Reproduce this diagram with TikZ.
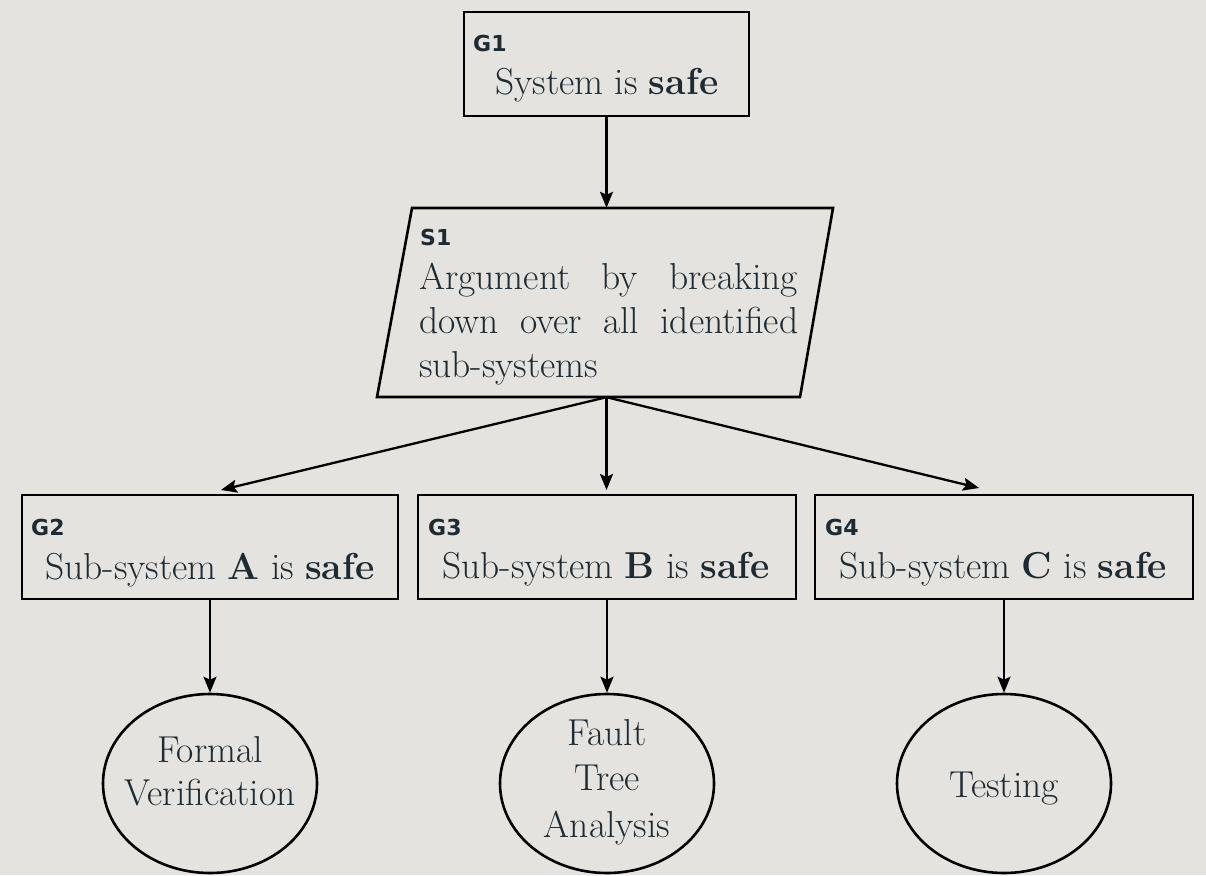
\documentclass[tikz,border=0pt]{standalone}
\usepackage{fontspec}
\newfontfamily\labfont{DejaVu Sans}
\usetikzlibrary{shapes.geometric,arrows.meta,calc}
\definecolor{bg}{RGB}{229,227,223}
\definecolor{ink}{RGB}{31,43,51}
\begin{document}
\begin{tikzpicture}[x=1pt,y=-1pt,
  frame/.style={draw=black,line width=2.6pt,inner sep=0pt,rectangle},
  oval/.style={draw=black,line width=2.6pt,inner sep=0pt,ellipse,minimum width=214pt,minimum height=179pt},
  maintext/.style={inner sep=0pt,text=ink,font=\fontsize{37.5}{44}\selectfont},
  lab/.style={inner sep=0pt,text=ink,font=\labfont\bfseries\fontsize{22}{26}\selectfont},
  arr/.style={line width=2.3pt,-{Stealth[length=16pt,width=13pt,inset=3pt]}}]
\fill[bg] (0,0) rectangle (1206,875);
% G1
\node[frame,minimum width=285pt,minimum height=104pt] (g1) at (606.5,64) {};
\node[lab,anchor=base west] (l1) at (473,52) {G1};
\node[maintext,anchor=base west] (t1) at (495,94) {System is \textbf{safe}};
% S1
\node[inner sep=0pt,minimum width=380pt,minimum height=189pt] (s1) at (606.5,302.5) {};
\draw[line width=2.6pt] (412,208) -- (833,208) -- (800,397) -- (377,397) -- cycle;
\node[lab,anchor=base west] (ls1) at (420,245) {S1};
\node[maintext,anchor=base west] (ts1a) at (419,289) {\makebox[379pt][s]{Argument by breaking}};
\node[maintext,anchor=base west] (ts1b) at (419,333) {\makebox[379pt][s]{down over all identified}};
\node[maintext,anchor=base west] (ts1c) at (419,377) {sub-systems};
% G2-G4
\node[frame,minimum width=376pt,minimum height=104pt] (g2) at (210,547) {};
\node[lab,anchor=base west] (l2) at (31,535) {G2};
\node[maintext,anchor=base west] (t2) at (45,579) {Sub-system \textbf{A} is \textbf{safe}};
\node[frame,minimum width=378pt,minimum height=104pt] (g3) at (607,547) {};
\node[lab,anchor=base west] (l3) at (428,535) {G3};
\node[maintext,anchor=base west] (t3) at (442,578) {Sub-system \textbf{B} is \textbf{safe}};
\node[frame,minimum width=378pt,minimum height=104pt] (g4) at (1004,547) {};
\node[lab,anchor=base west] (l4) at (825,535) {G4};
\node[maintext,anchor=base west] (t4) at (839,578) {Sub-system \textbf{C} is \textbf{safe}};
% ellipses
\node[oval] (fv) at (210,783.5) {};
\node[maintext,anchor=base] (fv1) at (210,762) {Formal};
\node[maintext,anchor=base] (fv2) at (210,805) {Verification};
\node[oval] (fta) at (607,783.5) {};
\node[maintext,anchor=base] (fta1) at (607,745) {Fault};
\node[maintext,anchor=base] (fta2) at (607,790) {Tree};
\node[maintext,anchor=base] (fta3) at (607,837) {Analysis};
\node[oval] (te) at (1004,783.5) {};
\node[maintext,anchor=base] (te1) at (1004,797) {Testing};
% connectors
\coordinate (e2) at (221,490);
\coordinate (e3) at (606.5,490);
\coordinate (e4) at (979,488);
\draw[arr] (g1.south) -- (g1.south |- s1.north);
\draw[arr] (s1.south) -- (e2);
\draw[arr] (s1.south) -- (e3);
\draw[arr] (s1.south) -- (e4);
\draw[arr] (g2.south) -- (fv.north);
\draw[arr] (g3.south) -- (fta.north);
\draw[arr] (g4.south) -- (te.north);
\end{tikzpicture}
\end{document}
